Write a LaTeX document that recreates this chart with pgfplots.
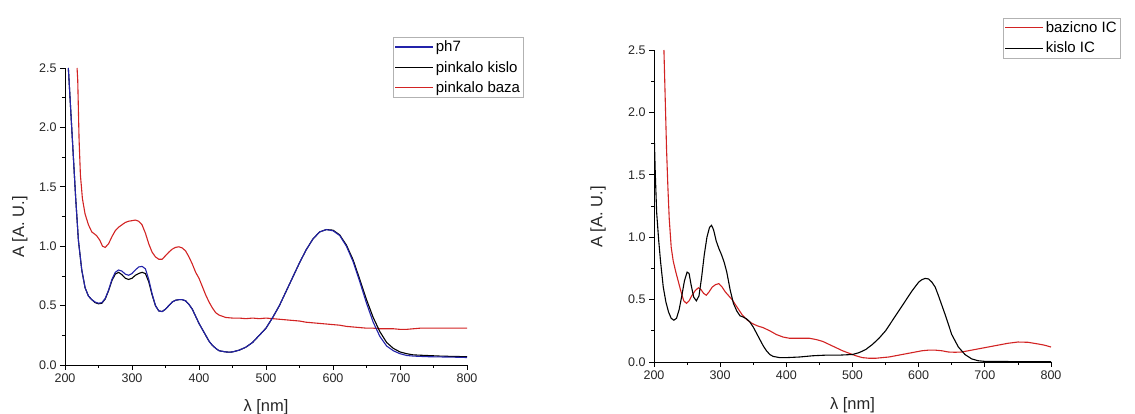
\documentclass[border=0pt]{standalone}
\usepackage{fontspec}
\setmainfont{Liberation Sans}
\usepackage{pgfplots}
\pgfplotsset{compat=1.18}
\definecolor{cblue}{RGB}{35,35,170}
\definecolor{cred}{RGB}{210,35,35}
\pgfplotsset{
  myax/.style={
    scale only axis,
    axis x line*=bottom, axis y line*=left,
    axis line style={line width=0.9pt, -},
    xmin=200, xmax=800, ymin=0, ymax=2.5,
    xtick={200,300,...,800}, ytick={0,0.5,...,2.5},
    minor x tick num=1, minor y tick num=1,
    tick align=outside,
    major tick length=5pt, minor tick length=3pt,
    tick style={line width=0.7pt, black},
    /pgf/number format/assume math mode=true,
    ticklabel style={font=\fontsize{12.5}{14}\selectfont, text=black!85},
    yticklabel style={/pgf/number format/fixed, /pgf/number format/fixed zerofill, /pgf/number format/precision=1},
    xlabel={λ [nm]}, ylabel={A [A. U.]},
    label style={font=\fontsize{16.5}{18}\selectfont, text=black!85},
    legend image code/.code={\draw[##1, line width=1.1pt] (0pt,0pt) -- (38pt,0pt);},
    legend style={anchor=north west, draw=gray!60, line width=0.5pt,
      font=\fontsize{15}{17}\selectfont, inner sep=1.5pt, row sep=4pt,
      cells={anchor=west}},
    every axis plot/.append style={line width=1.1pt},
  }
}
\begin{document}
\begin{tikzpicture}
\useasboundingbox (0,0) rectangle (1135pt,414pt);
\begin{axis}[myax, at={(65pt,49pt)}, anchor=south west, width=402pt, height=297pt,
  xlabel style={at={(axis description cs:0.5,-0.1414)}, anchor=center},
  ylabel style={at={(axis description cs:-0.112,0.465)}, anchor=center},
  legend style={at={(0.816,1.104)}}, reverse legend]
\addplot[cred] coordinates {
(218,2.5) (219,2.4) (220,2.15) (221,1.9) (223,1.6) (226,1.4) (230,1.27) (235,1.18) (240,1.12) (247,1.09) (252,1.05) (256,1.0) (260,0.99)
(265,1.02) (270,1.08) (275,1.13) (280,1.16) (285,1.18) (290,1.2) (295,1.21) (300,1.215) (305,1.22) (310,1.21) (315,1.18) (320,1.11)
(325,1.02) (330,0.95) (335,0.91) (340,0.89) (345,0.89) (350,0.92) (355,0.95) (360,0.975) (365,0.99) (370,0.995) (375,0.985) (380,0.96)
(385,0.91) (390,0.85) (395,0.78) (400,0.73) (405,0.66) (410,0.59) (415,0.53) (420,0.48) (425,0.44) (430,0.42) (435,0.41) (440,0.4)
(450,0.395) (460,0.395) (470,0.39) (480,0.395) (490,0.39) (500,0.395) (510,0.39) (520,0.385) (530,0.38) (540,0.375) (550,0.37)
(560,0.36) (570,0.355) (580,0.35) (590,0.345) (600,0.34) (610,0.335) (620,0.325) (630,0.32) (640,0.315) (650,0.31) (660,0.31)
(670,0.305) (680,0.305) (690,0.305) (700,0.3) (710,0.3) (720,0.305) (730,0.31) (740,0.31) (750,0.31) (760,0.31) (770,0.31)
(780,0.31) (790,0.31) (800,0.31)};
\addlegendentry{pinkalo baza}
\addplot[black] coordinates {
(205,2.5) (208,2.2) (212,1.8) (216,1.4) (220,1.05) (225,0.8) (230,0.65) (235,0.58) (240,0.55) (245,0.525) (250,0.515) (255,0.52)
(260,0.555) (265,0.625) (270,0.71) (275,0.765) (280,0.78) (285,0.76) (290,0.73) (295,0.72) (300,0.73) (305,0.755) (310,0.77)
(315,0.78) (320,0.77) (325,0.7) (330,0.59) (335,0.5) (340,0.455) (345,0.45) (350,0.47) (355,0.5) (360,0.53) (365,0.545) (370,0.55)
(375,0.55) (380,0.54) (385,0.51) (390,0.47) (395,0.41) (400,0.35) (405,0.3) (410,0.25) (415,0.2) (420,0.165) (425,0.14) (430,0.12)
(435,0.115) (440,0.11) (445,0.108) (450,0.11) (460,0.125) (470,0.15) (480,0.19) (490,0.25) (500,0.31) (510,0.4) (520,0.5)
(530,0.62) (540,0.74) (550,0.86) (560,0.97) (570,1.06) (580,1.12) (590,1.14) (600,1.135) (610,1.095) (620,1.01) (630,0.885)
(640,0.72) (650,0.55) (660,0.4) (670,0.28) (680,0.19) (690,0.14) (700,0.11) (710,0.095) (720,0.085) (740,0.08) (760,0.075)
(780,0.072) (800,0.07)};
\addlegendentry{pinkalo kislo}
\addplot[cblue] coordinates {
(205,2.5) (208,2.2) (212,1.8) (216,1.4) (220,1.05) (225,0.8) (230,0.65) (235,0.58) (240,0.55) (245,0.53) (250,0.52) (255,0.525)
(260,0.56) (265,0.63) (270,0.72) (275,0.78) (280,0.8) (285,0.79) (290,0.765) (295,0.755) (300,0.77) (305,0.8) (310,0.825)
(315,0.83) (320,0.81) (325,0.72) (330,0.6) (335,0.5) (340,0.455) (345,0.45) (350,0.47) (355,0.5) (360,0.53) (365,0.545) (370,0.55)
(375,0.55) (380,0.54) (385,0.51) (390,0.47) (395,0.41) (400,0.35) (405,0.3) (410,0.25) (415,0.2) (420,0.165) (425,0.14) (430,0.12)
(435,0.115) (440,0.11) (445,0.108) (450,0.11) (460,0.125) (470,0.15) (480,0.19) (490,0.25) (500,0.31) (510,0.4) (520,0.5)
(530,0.62) (540,0.74) (550,0.86) (560,0.97) (570,1.06) (580,1.12) (590,1.14) (600,1.13) (610,1.09) (620,1.0) (630,0.87)
(640,0.7) (650,0.52) (660,0.36) (670,0.24) (680,0.16) (690,0.12) (700,0.095) (710,0.08) (720,0.075) (740,0.07) (760,0.068)
(780,0.066) (800,0.063)};
\addlegendentry{ph7}
\end{axis}
\begin{axis}[myax, at={(654pt,52pt)}, anchor=south west, width=397pt, height=312pt,
  xlabel style={at={(axis description cs:0.5,-0.138)}, anchor=center},
  ylabel style={at={(axis description cs:-0.141,0.465)}, anchor=center},
  legend style={at={(0.879,1.103)}}]
\addplot[cred] coordinates {
(215,2.5) (217,2.1) (219,1.7) (221,1.4) (223,1.15) (226,0.92) (229,0.81) (233,0.72) (237,0.64) (241,0.56) (245,0.49) (249,0.47)
(253,0.49) (257,0.53) (262,0.57) (267,0.595) (271,0.58) (275,0.55) (279,0.535) (283,0.56) (288,0.6) (293,0.62) (298,0.628)
(303,0.6) (308,0.56) (313,0.53) (318,0.5) (323,0.46) (328,0.42) (333,0.38) (340,0.34) (348,0.31) (356,0.29) (365,0.275)
(375,0.25) (385,0.22) (395,0.2) (405,0.19) (420,0.19) (435,0.19) (445,0.18) (455,0.165) (465,0.14) (475,0.115) (485,0.09)
(495,0.07) (505,0.05) (515,0.035) (525,0.03) (535,0.03) (545,0.035) (555,0.04) (565,0.05) (575,0.06) (585,0.07) (595,0.08)
(605,0.09) (615,0.095) (625,0.095) (635,0.09) (645,0.08) (655,0.078) (665,0.08) (675,0.09) (685,0.1) (695,0.11) (705,0.12)
(720,0.135) (735,0.15) (750,0.16) (765,0.158) (780,0.145) (790,0.135) (800,0.12)};
\addlegendentry{bazicno IC}
\addplot[black] coordinates {
(200,1.88) (202,1.5) (204,1.2) (207,0.98) (210,0.8) (214,0.6) (218,0.48) (222,0.4) (226,0.35) (230,0.335) (234,0.35) (238,0.42)
(242,0.53) (246,0.65) (250,0.72) (253,0.71) (256,0.62) (260,0.52) (264,0.49) (268,0.53) (272,0.68) (276,0.86) (280,1.0)
(284,1.08) (287,1.095) (290,1.06) (294,0.97) (298,0.91) (302,0.86) (306,0.8) (310,0.72) (315,0.58) (320,0.47) (325,0.41)
(330,0.37) (335,0.36) (340,0.345) (345,0.32) (350,0.28) (355,0.23) (360,0.18) (365,0.13) (370,0.09) (375,0.06) (380,0.045)
(390,0.035) (400,0.035) (420,0.04) (440,0.05) (460,0.055) (480,0.055) (500,0.06) (510,0.075) (520,0.1) (530,0.14) (540,0.19)
(550,0.25) (560,0.33) (570,0.41) (580,0.49) (590,0.57) (600,0.64) (605,0.66) (610,0.67) (615,0.665) (620,0.64) (625,0.6)
(630,0.53) (640,0.38) (650,0.22) (660,0.12) (670,0.06) (680,0.025) (690,0.01) (700,0.005) (750,0.003) (800,0.003)};
\addlegendentry{kislo IC}
\end{axis}
\end{tikzpicture}
\end{document}
